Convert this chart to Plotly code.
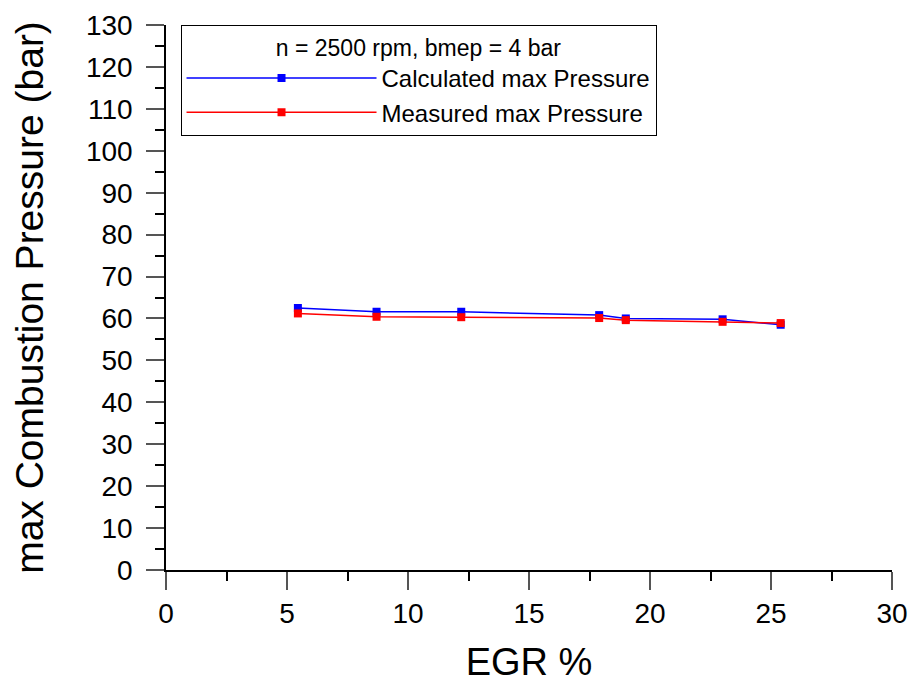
import plotly.graph_objects as go

egr = [5.45, 8.7, 12.2, 17.9, 19.0, 23.0, 25.4]
calc_p = [62.5, 61.6, 61.6, 60.8, 60.0, 59.8, 58.5]
meas_p = [61.2, 60.4, 60.3, 60.1, 59.6, 59.2, 58.9]

legend_title = "n = 2500 rpm, bmep = 4 bar"
name_calc = "Calculated max Pressure"
name_meas = "Measured max Pressure"

font_family = "Liberation Sans, Arial, sans-serif"

fig = go.Figure()
fig.add_trace(go.Scatter(x=egr, y=calc_p, mode="lines+markers", name=name_calc,
                         line=dict(color="#0000ff", width=1.5),
                         marker=dict(symbol="square", size=8, color="#0000ff")))
fig.add_trace(go.Scatter(x=egr, y=meas_p, mode="lines+markers", name=name_meas,
                         line=dict(color="#ff0000", width=1.5),
                         marker=dict(symbol="square", size=8, color="#ff0000")))

axis_common = dict(showline=True, linecolor="black", linewidth=1.5, ticks="outside",
                   ticklen=18, tickwidth=1.5, tickcolor="#555555", showgrid=False,
                   zeroline=False, automargin=False,
                   tickfont=dict(size=28, color="black", family=font_family))

fig.update_xaxes(range=[0, 30], dtick=5, tick0=0,
                 title=dict(text="EGR %", font=dict(size=38, color="black", family=font_family), standoff=20),
                 minor=dict(ticks="outside", ticklen=9, dtick=2.5, tickcolor="black", tickwidth=1.5),
                 **axis_common)
fig.update_yaxes(range=[0, 130], dtick=10, tick0=0, ticklabelstandoff=8,
                 title=dict(text="max Combustion Pressure (bar)", font=dict(size=39, color="black", family=font_family), standoff=30),
                 minor=dict(ticks="outside", ticklen=9, dtick=5, tickcolor="black", tickwidth=1.5),
                 **axis_common)

fig.update_layout(
    width=913, height=684,
    margin=dict(l=166, r=21, t=25, b=114),
    plot_bgcolor="white", paper_bgcolor="white",
    font=dict(family=font_family, color="black"),
    showlegend=True,
    legend=dict(x=0.02, y=1, xanchor="left", yanchor="top",
                bgcolor="white", bordercolor="black", borderwidth=1,
                font=dict(size=24, color="black", family=font_family),
                itemwidth=190, tracegroupgap=0,
                title=dict(text=legend_title, side="top center",
                           font=dict(size=23, color="black", family=font_family))),
)

fig.write_html("out.html")
